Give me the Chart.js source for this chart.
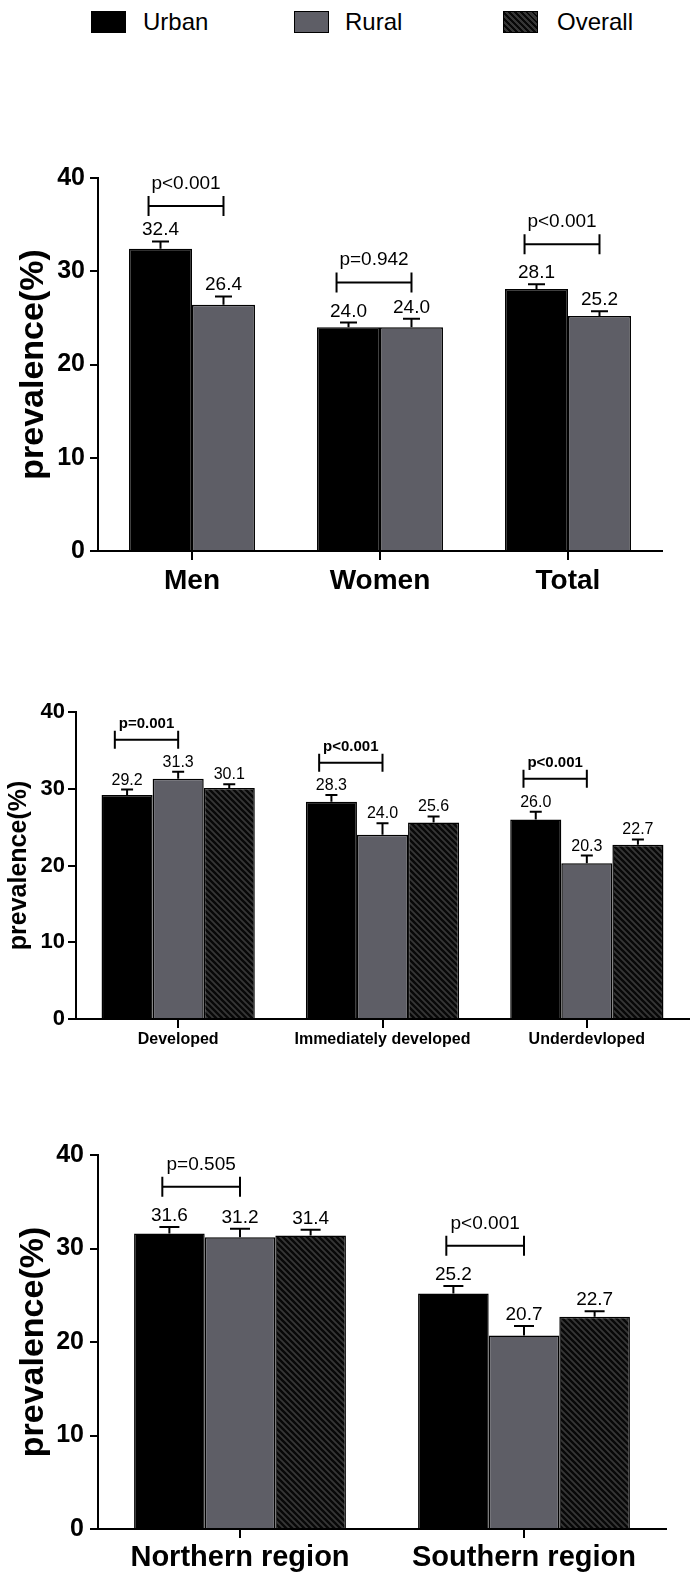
<!DOCTYPE html>
<html><head><meta charset="utf-8">
<script src="https://cdn.jsdelivr.net/npm/chart.js@4/dist/chart.umd.min.js"></script>
<style>
html,body{margin:0;padding:0;background:#fff;width:695px;height:1580px;overflow:hidden;}
.wrap{position:absolute;left:0;width:695px;}
canvas{display:block;}
#legend{position:absolute;left:0;top:0;width:695px;height:45px;}
.sw{position:absolute;top:11px;width:35px;height:22px;box-sizing:border-box;border:1.5px solid #000;}
.lt{position:absolute;top:6px;line-height:32px;color:#000;white-space:nowrap;}
</style></head><body>
<div id="legend"></div>
<div class="wrap" style="top:100px;height:540px"><canvas id="c1" width="695" height="540"></canvas></div>
<div class="wrap" style="top:640px;height:440px"><canvas id="c2" width="695" height="440"></canvas></div>
<div class="wrap" style="top:1080px;height:500px"><canvas id="c3" width="695" height="500"></canvas></div>
<script>
// ---------------- DATA ----------------
const seriesNames = ['Urban', 'Rural', 'Overall'];
const yTicks = [0, 10, 20, 30, 40];

const groups1 = ['Men', 'Women', 'Total'];
const urban1 = [32.4, 24.0, 28.1];
const urbanHi1 = [33.2, 24.5, 28.6];
const rural1 = [26.4, 24.0, 25.2];
const ruralHi1 = [27.3, 24.9, 25.7];
const pText1 = ['p<0.001', 'p=0.942', 'p<0.001'];
const pY1 = [37.0, 28.8, 32.9];

const groups2 = ['Developed', 'Immediately developed', 'Underdevloped'];
const urban2 = [29.2, 28.3, 26.0];
const urbanHi2 = [29.9, 29.2, 27.0];
const rural2 = [31.3, 24.0, 20.3];
const ruralHi2 = [32.2, 25.5, 21.3];
const overall2 = [30.1, 25.6, 22.7];
const overallHi2 = [30.6, 26.4, 23.4];
const pText2 = ['p=0.001', 'p<0.001', 'p<0.001'];
const pY2 = [36.4, 33.4, 31.3];

const groups3 = ['Northern region', 'Southern region'];
const urban3 = [31.6, 25.2];
const urbanHi3 = [32.3, 26.0];
const rural3 = [31.2, 20.7];
const ruralHi3 = [32.1, 21.7];
const overall3 = [31.4, 22.7];
const overallHi3 = [32.0, 23.3];
const pText3 = ['p=0.505', 'p<0.001'];
const pY3 = [36.6, 30.3];

// ---------------- STYLE ----------------
const URBAN_C = '#000000';
const RURAL_C = '#5e5e66';
const SANS = "'Liberation Sans', Arial, Helvetica, sans-serif";

function hatchPattern(ctx){
  const c = document.createElement('canvas'); c.width = 6; c.height = 6;
  const g = c.getContext('2d');
  g.fillStyle = '#363636'; g.fillRect(0, 0, 6, 6);
  g.strokeStyle = '#080808'; g.lineWidth = 2.4;
  g.beginPath();
  g.moveTo(-2, -2); g.lineTo(8, 8);
  g.moveTo(-2, 4); g.lineTo(2, 8);
  g.moveTo(4, -2); g.lineTo(8, 2);
  g.stroke();
  return ctx.createPattern(c, 'repeat');
}

// legend (HTML)
(function(){
  const L = document.getElementById('legend');
  const items = [
    {sw: 91, tx: 143, bg: URBAN_C},
    {sw: 294, tx: 345, bg: RURAL_C},
    {sw: 503, tx: 557, bg: 'repeating-linear-gradient(45deg, #080808 0px, #080808 1.7px, #363636 1.7px, #363636 4.2px)'}
  ];
  items.forEach((it, i) => {
    const s = document.createElement('div'); s.className = 'sw';
    s.style.left = it.sw + 'px'; s.style.background = it.bg;
    L.appendChild(s);
    const t = document.createElement('div'); t.className = 'lt';
    t.style.left = it.tx + 'px'; t.style.fontFamily = SANS; t.style.fontSize = '24px';
    t.textContent = seriesNames[i];
    L.appendChild(t);
  });
})();

function annotPlugin(cfg){
  return {
    id: 'annot',
    afterDatasetsDraw(chart){
      const ctx = chart.ctx, ys = chart.scales.y;
      ctx.save();
      chart.data.datasets.forEach((ds, di) => {
        const meta = chart.getDatasetMeta(di);
        meta.data.forEach((bar, i) => {
          const hp = ys.getPixelForValue(cfg.hi[di][i]);
          ctx.strokeStyle = '#000'; ctx.lineWidth = cfg.errW;
          ctx.beginPath();
          ctx.moveTo(bar.x, bar.y); ctx.lineTo(bar.x, hp);
          ctx.moveTo(bar.x - cfg.capW / 2, hp); ctx.lineTo(bar.x + cfg.capW / 2, hp);
          ctx.stroke();
          ctx.fillStyle = '#000'; ctx.font = cfg.valFont;
          ctx.textAlign = 'center'; ctx.textBaseline = 'alphabetic';
          ctx.fillText(ds.data[i].toFixed(1), bar.x, hp - cfg.valGap);
        });
      });
      const m0 = chart.getDatasetMeta(0), m1 = chart.getDatasetMeta(1);
      cfg.pY.forEach((v, i) => {
        const b0 = m0.data[i], b1 = m1.data[i];
        const x0 = b0.x - cfg.leftFrac * b0.width, x1 = b1.x;
        const y = ys.getPixelForValue(v);
        ctx.strokeStyle = '#000'; ctx.lineWidth = cfg.brW;
        ctx.beginPath();
        ctx.moveTo(x0, y); ctx.lineTo(x1, y);
        ctx.moveTo(x0, y - cfg.brT); ctx.lineTo(x0, y + cfg.brT);
        ctx.moveTo(x1, y - cfg.brT); ctx.lineTo(x1, y + cfg.brT);
        ctx.stroke();
        ctx.fillStyle = '#000'; ctx.font = cfg.pFont;
        ctx.textAlign = 'center'; ctx.textBaseline = 'alphabetic';
        ctx.fillText(cfg.pText[i], (x0 + x1) / 2, y - cfg.pGap);
      });
      ctx.restore();
    }
  };
}

function makeChart(id, o){
  const el = document.getElementById(id);
  const ctx = el.getContext('2d');
  const colors = [URBAN_C, RURAL_C, hatchPattern(ctx)];
  const datasets = o.series.map((d, i) => ({
    label: seriesNames[i], data: d, backgroundColor: colors[i],
    borderColor: '#000', borderWidth: 1.5, borderSkipped: 'bottom',
    barPercentage: 1.0, categoryPercentage: o.catPct
  }));
  return new Chart(ctx, {
    type: 'bar',
    data: {labels: o.labels, datasets},
    options: {
      responsive: false, animation: false, devicePixelRatio: 1,
      layout: {padding: {top: o.padTop, right: o.padRight, left: 0, bottom: 0}},
      plugins: {legend: {display: false}, tooltip: {enabled: false}},
      scales: {
        x: {
          grid: {display: true, drawOnChartArea: false, drawTicks: true, tickLength: 9, offset: false, color: '#000', lineWidth: 2},
          border: {display: true, color: '#000', width: 2},
          ticks: {color: '#000', font: o.xFont, padding: o.xPad, maxRotation: 0, autoSkip: false},
          afterFit: s => { s.height = o.xH; }
        },
        y: {
          min: 0, max: 40,
          afterBuildTicks: s => { s.ticks = yTicks.map(v => ({value: v})); },
          grid: {display: true, drawOnChartArea: false, drawTicks: true, tickLength: 8, color: '#000', lineWidth: 2},
          border: {display: true, color: '#000', width: 2},
          ticks: {color: '#000', font: o.yFont, padding: o.yPad},
          title: {display: true, text: 'prevalence(%)', color: '#000', font: o.tFont, padding: {top: o.tPad, bottom: 0}},
          afterFit: s => { s.width = o.yW; }
        }
      }
    },
    plugins: [annotPlugin(o.annot)]
  });
}

makeChart('c1', {
  labels: groups1, series: [urban1, rural1], catPct: 0.67,
  padTop: 78, padRight: 33, xH: 89, yW: 98,
  xFont: {family: SANS, size: 28, weight: 'bold'}, xPad: 4,
  yFont: {family: SANS, size: 25, weight: 'bold'}, yPad: 5,
  tFont: {family: SANS, size: 34, weight: 'bold'}, tPad: 13,
  annot: {hi: [urbanHi1, ruralHi1], errW: 2, capW: 17, valFont: '19px ' + SANS, valGap: 6,
          pY: pY1, pText: pText1, leftFrac: 0.19, brW: 2, brT: 10, pFont: '19px ' + SANS, pGap: 17}
});

makeChart('c2', {
  labels: groups2, series: [urban2, rural2, overall2], catPct: 0.75,
  padTop: 72, padRight: 6, xH: 61, yW: 76,
  xFont: {family: SANS, size: 16, weight: 'bold'}, xPad: 2,
  yFont: {family: SANS, size: 22, weight: 'bold'}, yPad: 3,
  tFont: {family: SANS, size: 25, weight: 'bold'}, tPad: 4,
  annot: {hi: [urbanHi2, ruralHi2, overallHi2], errW: 2, capW: 12, valFont: '16px ' + SANS, valGap: 5,
          pY: pY2, pText: pText2, leftFrac: 0.24, brW: 2, brT: 9, pFont: 'bold 15px ' + SANS, pGap: 12}
});

makeChart('c3', {
  labels: groups3, series: [urban3, rural3, overall3], catPct: 0.746,
  padTop: 75, padRight: 29, xH: 51, yW: 98,
  xFont: {family: SANS, size: 29, weight: 'bold'}, xPad: 3,
  yFont: {family: SANS, size: 25, weight: 'bold'}, yPad: 6,
  tFont: {family: SANS, size: 34, weight: 'bold'}, tPad: 13,
  annot: {hi: [urbanHi3, ruralHi3, overallHi3], errW: 2, capW: 20, valFont: '19px ' + SANS, valGap: 6,
          pY: pY3, pText: pText3, leftFrac: 0.1, brW: 2, brT: 10, pFont: '19px ' + SANS, pGap: 17}
});
</script>
</body></html>
